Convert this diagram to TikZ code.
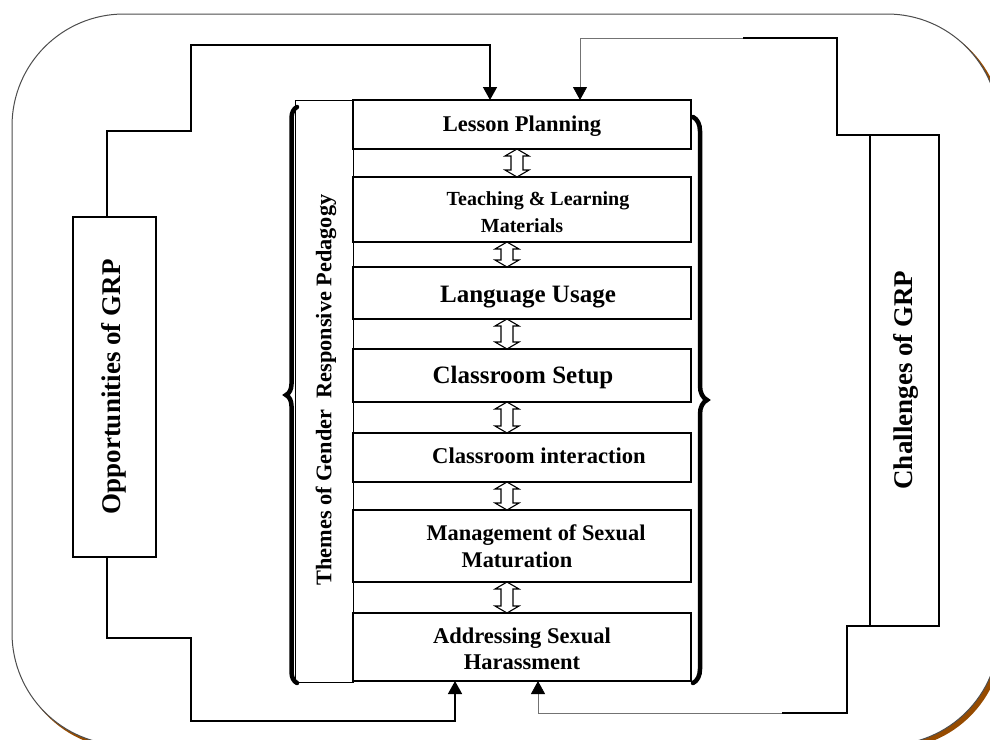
\documentclass[tikz,border=0pt]{standalone}
\usepackage{fontspec}
\setmainfont{Liberation Serif}
\usetikzlibrary{arrows.meta,decorations.pathreplacing,calc}
\definecolor{shad}{RGB}{150,75,0}
\newcommand\fs[1]{\bfseries\fontsize{#1}{#1}\selectfont}
\newcommand\dbarr[3]{%
 \draw[dblarrow] let \p1=(#2.south), \p2=(#3.north) in
  (#1pt,\y1) -- (#1pt+12pt,\y1-7pt) -- (#1pt+6pt,\y1-7pt) -- (#1pt+6pt,\y2+7pt)
  -- (#1pt+12pt,\y2+7pt) -- (#1pt,\y2) -- (#1pt-12pt,\y2+7pt) -- (#1pt-6pt,\y2+7pt)
  -- (#1pt-6pt,\y1-7pt) -- (#1pt-12pt,\y1-7pt) -- cycle;}
\begin{document}
\begin{tikzpicture}[x=1pt,y=-1pt,
  themebox/.style={draw, line width=1.2pt, minimum width=338pt, inner sep=0pt, outer sep=0pt, anchor=north west},
  sidebox/.style={draw, line width=1.2pt, inner sep=0pt, outer sep=0pt, anchor=north west},
  lbl/.style={anchor=base, inner sep=0pt},
  rlbl/.style={rotate=90, inner sep=0pt},
  conn/.style={line width=1.5pt, line join=miter},
  connthin/.style={line width=0.8pt, draw=black!55},
  arrtip/.style={-{Triangle[width=14pt,length=13pt,color=black]}},
  dblarrow/.style={line width=1.1pt, fill=white, line join=miter},
  bigbrace/.style={decorate, line width=4.5pt, line cap=round}
]
\useasboundingbox (0,0) rectangle (990,739);
% outer rounded frame with shadow
\fill[shad, rounded corners=112pt] (15,17) rectangle (1003,749);
\filldraw[fill=white, draw=black!70, line width=1pt, rounded corners=112pt] (12,14) rectangle (999,745);

% title column
\node[sidebox, line width=1pt, minimum width=58pt, minimum height=582pt] (tcol) at (295,100) {};
\node[rlbl, font=\fs{22.3}] (ttl) at (326,390) {Themes of Gender~ Responsive Pedagogy};

% theme boxes
\node[themebox, minimum height=49pt] (lp) at (353,100) {};
\node[themebox, minimum height=65pt] (tl) at (353,177) {};
\node[themebox, minimum height=52pt] (lu) at (353,267) {};
\node[themebox, minimum height=53pt] (cs) at (353,349) {};
\node[themebox, minimum height=49pt] (ci) at (353,433) {};
\node[themebox, minimum height=72pt] (ms) at (353,510) {};
\node[themebox, minimum height=68pt] (as) at (353,613) {};

\node[lbl, font=\fs{22.5}] (lpt) at (522,131) {Lesson Planning};
\node[lbl, font=\fs{20}] (tlt1) at (538,205) {Teaching \& Learning};
\node[lbl, font=\fs{20}] (tlt2) at (522,232) {Materials};
\node[lbl, font=\fs{25}] (lut) at (528,302) {Language Usage};
\node[lbl, font=\fs{25}] (cst) at (523,383) {Classroom Setup};
\node[lbl, font=\fs{22.6}] (cit) at (539,463) {Classroom interaction};
\node[lbl, font=\fs{22.4}] (mst1) at (536,540) {Management of Sexual};
\node[lbl, font=\fs{22.4}] (mst2) at (517,567) {Maturation};
\node[lbl, font=\fs{22.5}] (ast1) at (522,643) {Addressing Sexual};
\node[lbl, font=\fs{22.5}] (ast2) at (522,669) {Harassment};

% double arrows between boxes
\dbarr{517}{lp}{tl}
\dbarr{507}{tl}{lu}
\dbarr{507}{lu}{cs}
\dbarr{507}{cs}{ci}
\dbarr{507}{ci}{ms}
\dbarr{507}{ms}{as}

% braces
\draw[bigbrace, decoration={brace, amplitude=14pt}] (693,117) -- (693,683);
\draw[bigbrace, decoration={brace, amplitude=11pt}] (297,683) -- (297,107);

% side boxes
\node[sidebox, minimum width=83pt, minimum height=340pt] (opp) at (73,217) {};
\node[rlbl, font=\fs{27}] (oppt) at (114,387) {Opportunities of GRP};
\node[sidebox, minimum width=69pt, minimum height=491pt] (chal) at (870,135) {};
\node[rlbl, font=\fs{27}] (chalt) at (906,380) {Challenges of GRP};

% left connectors
\draw[conn, arrtip] ([xshift=34pt]opp.north west) |- (191,131) |- (490,45) -| ([xshift=137pt]lp.north west);
\draw[conn, arrtip] ([xshift=34pt]opp.south west) |- (191,638) |- (455,721) -| ([xshift=102pt]as.south west);

% right connectors
\coordinate (rt) at (743,38);
\coordinate (rb) at (782,713);
\draw[conn] (chal.north west) -- (837,135) |- (rt);
\draw[connthin, arrtip] (rt) -| ([xshift=227pt]lp.north west);
\draw[conn] (chal.south west) -- (847,626) |- (rb);
\draw[connthin, arrtip] (rb) -| ([xshift=185pt]as.south west);
\end{tikzpicture}
\end{document}
